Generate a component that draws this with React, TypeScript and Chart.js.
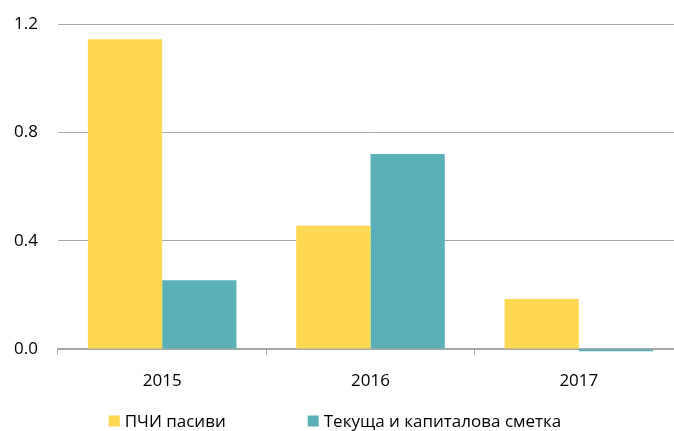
import React, { useEffect, useRef } from "react";
import { Chart, registerables } from "chart.js";

Chart.register(...registerables);

const categories = ["2015", "2016", "2017"];
const seriesNames = ["ПЧИ пасиви", "Текуща и капиталова сметка"];
const fdiLiabilities = [1.144, 0.455, 0.185];
const currentCapital = [0.254, 0.72, -0.008];
const yTicks = [0, 0.4, 0.8, 1.2];
const colors = ["#FFD851", "#5AAFB8"];

const FONT = "'Open Sans', 'Noto Sans', sans-serif";
const VIEW_W = 674;
const CANVAS_W = 683;
const VIEW_H = 431;

const customLegend = {
  id: "customLegend",
  afterDraw(chart: any) {
    const ctx = chart.ctx;
    const size = 17;
    ctx.save();
    ctx.font = `${size}px ${FONT}`;
    ctx.textBaseline = "middle";
    const box = 11;
    const textGap = 5;
    const itemGap = 82;
    const widths = seriesNames.map((n) => box + textGap + ctx.measureText(n).width);
    const total = widths.reduce((a, b) => a + b, 0) + itemGap * (widths.length - 1);
    let x = (VIEW_W - total) / 2 - 2;
    const y = chart.height - 10;
    seriesNames.forEach((n, i) => {
      ctx.fillStyle = colors[i];
      ctx.fillRect(x, y - box / 2, box, box);
      ctx.fillStyle = "#000";
      ctx.fillText(n, x + box + textGap, y + 1);
      x += widths[i] + itemGap;
    });
    ctx.restore();
  },
};

export default function App() {
  const ref = useRef<HTMLCanvasElement>(null);
  useEffect(() => {
    document.body.style.margin = "0";
    const chart = new Chart(ref.current!, {
      type: "bar",
      data: {
        labels: categories,
        datasets: [
          { label: seriesNames[0], data: fdiLiabilities, backgroundColor: colors[0], barPercentage: 1, categoryPercentage: 0.713, clip: false as any },
          { label: seriesNames[1], data: currentCapital, backgroundColor: colors[1], barPercentage: 1, categoryPercentage: 0.713, clip: false as any },
        ],
      },
      options: {
        animation: false,
        responsive: false,
        layout: { padding: { top: 24, right: 0, bottom: 42, left: 0 } },
        plugins: { legend: { display: false }, tooltip: { enabled: false } },
        scales: {
          x: {
            grid: { display: true, drawOnChartArea: false, drawTicks: true, tickLength: 6, color: "#A6A6A6", offset: true },
            border: { display: true, color: "#A6A6A6", width: 1.5 },
            ticks: { color: "#000", font: { family: FONT, size: 17 }, padding: 16 },
            afterFit: (scale: any) => {
              scale.height = 40;
              scale.paddingLeft = 0;
              scale.paddingRight = 0;
            },
          },
          y: {
            min: 0,
            max: 1.2,
            afterBuildTicks: (scale: any) => {
              scale.ticks = yTicks.map((v) => ({ value: v }));
            },
            afterFit: (scale: any) => {
              scale.width = 58;
              scale.paddingTop = 8;
              scale.paddingBottom = 8;
            },
            grid: { color: "#A6A6A6", drawTicks: false },
            border: { display: false },
            ticks: {
              color: "#000",
              font: { family: FONT, size: 17 },
              padding: 20,
              callback: (v: any) => Number(v).toFixed(1),
            },
          },
        },
      },
      plugins: [customLegend],
    });
    return () => chart.destroy();
  }, []);
  return (
    <div style={{ width: VIEW_W, height: VIEW_H, overflow: "hidden" }}>
      <canvas ref={ref} width={CANVAS_W} height={VIEW_H} style={{ display: "block" }} />
    </div>
  );
}
